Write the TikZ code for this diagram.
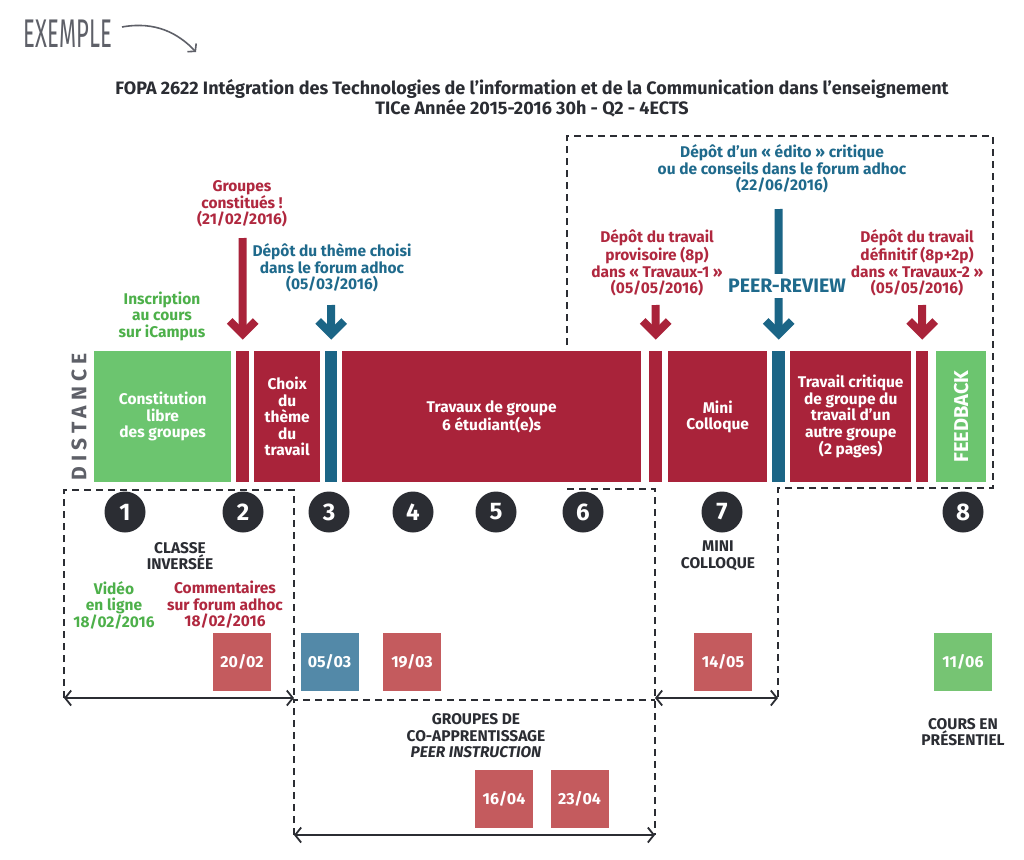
\documentclass[tikz,border=0pt]{standalone}
\usepackage{fontspec}
\setmainfont{Fira Sans}
\setsansfont{Fira Sans}
\newfontfamily\distfont{Fira Sans}[LetterSpace=24]
\usetikzlibrary{arrows.meta,calc}
\definecolor{cred}{HTML}{A9233A}
\definecolor{cgreen}{HTML}{6CC56F}
\definecolor{cblue}{HTML}{1B6586}
\definecolor{lred}{HTML}{C45B5E}
\definecolor{lblue}{HTML}{5389A8}
\definecolor{lgreen}{HTML}{76C473}
\definecolor{tgreen}{HTML}{4DB04A}
\definecolor{tred}{HTML}{B0283F}
\definecolor{tblue}{HTML}{1F6A8C}
\definecolor{dark}{HTML}{2B2D33}
\definecolor{gtext}{HTML}{5E6068}
\begin{document}
\begin{tikzpicture}[x=1pt,y=-1pt,
  lbl/.style={font=\fontsize{15.5}{16.5}\selectfont\bfseries, align=center, inner sep=0},
  seg/.style={anchor=north west, minimum height=131, inner sep=0, text=white,
    font=\fontsize{15.5}{16.5}\selectfont\bfseries, align=center},
  num/.style={circle, fill=dark, minimum size=41, inner sep=0, text=white,
    font=\fontsize{24}{24}\selectfont\bfseries},
  sq/.style={minimum size=58, inner sep=0, text=white,
    font=\fontsize{16}{16}\selectfont\bfseries},
  shaft/.style={line width=8, line cap=butt},
  head/.style={line width=8, line cap=butt, line join=miter},
  dsh/.style={draw=dark, line width=1.8, dash pattern=on 7pt off 5pt},
  span/.style={draw=dark, line width=1.8, {Straight Barb[length=6pt,width=15pt]}-{Straight Barb[length=6pt,width=15pt]}}
]
\fill[white] (0,0) rectangle (1024,859);
\useasboundingbox (0,0) rectangle (1024,859);

% EXEMPLE
\node[font=\fontsize{40}{40}\selectfont, text=gtext, inner sep=0, xscale=0.55] (ex) at (68,34) {EXEMPLE};
\coordinate (exa) at (122,27);
\coordinate (exb) at (196,52);
\draw[gtext, line width=1.6, -{Straight Barb[length=5pt,width=12pt]}] (exa) .. controls (155,21) and (178,33) .. (exb);

% title
\node[font=\fontsize{18}{18}\selectfont\bfseries, text=dark, align=center, inner sep=0] (title) at (532,98)
 {FOPA 2622 Intégration des Technologies de l’information et de la Communication dans l’enseignement\\TICe Année 2015-2016 30h - Q2 - 4ECTS};

% dashed regions
\draw[dsh] (567,345) -- (567,136) -- (993,136) -- (993,488) -- (778,488) -- (778,698);
\draw[dsh] (567,489) -- (655,489) -- (655,835);
\draw[dsh] (64,698) -- (64,490) -- (294,490) -- (294,698);
\draw[dsh] (294,835) -- (294,700) -- (655,700);

% bar
\node[rotate=90, text=gtext, font=\fontsize{21}{21}\selectfont\bfseries\distfont, inner sep=0] (dist) at (79,417) {DISTANCE};
\node[seg, fill=cgreen, minimum width=137] (s1) at (94,351) {Constitution\\libre\\des groupes};
\node[seg, fill=cred, minimum width=13] (s2) at (236,351) {};
\node[seg, fill=cred, minimum width=66] (s3) at (254,351) {Choix\\du\\thème\\du\\travail};
\node[seg, fill=cblue, minimum width=12] (s4) at (325,351) {};
\node[seg, fill=cred, minimum width=299] (s5) at (342,351) {Travaux de groupe\\6 étudiant(e)s};
\node[seg, fill=cred, minimum width=13] (s6) at (649,351) {};
\node[seg, fill=cred, minimum width=99] (s7) at (668,351) {Mini\\Colloque};
\node[seg, fill=cblue, minimum width=13] (s8) at (772,351) {};
\node[seg, fill=cred, minimum width=121] (s9) at (790,351) {Travail critique\\de groupe du\\travail d’un\\autre groupe\\(2 pages)};
\node[seg, fill=cred, minimum width=12] (s10) at (916,351) {};
\node[seg, fill=cgreen, minimum width=50] (s11) at (936,351) {};
\node[rotate=90, text=white, font=\fontsize{20}{20}\selectfont\bfseries, inner sep=0] (fb) at (s11.center) {FEEDBACK};

% labels above
\node[lbl, text=tred] (grp) at (242,204) {Groupes\\constitués !\\(21/02/2016)};
\node[lbl, text=tblue] (theme) at (332,268) {Dépôt du thème choisi\\dans le forum adhoc\\(05/03/2016)};
\node[lbl, text=tgreen] (insc) at (162,316) {Inscription\\au cours\\sur iCampus};
\node[lbl, text=tblue] (edito) at (782,169) {Dépôt d’un « édito » critique\\ou de conseils dans le forum adhoc\\(22/06/2016)};
\node[lbl, text=tred] (prov) at (657,263) {Dépôt du travail\\provisoire (8p)\\dans « Travaux-1 »\\(05/05/2016)};
\node[lbl, text=tred] (def) at (917,263) {Dépôt du travail\\définitif (8p+2p)\\dans « Travaux-2 »\\(05/05/2016)};

% arrows
\coordinate (t2) at (242.5,238);
\coordinate (t4) at (331,305);
\coordinate (t6) at (655.5,305);
\coordinate (t8) at (778.5,209);
\coordinate (t10) at (922,305);
\foreach \s/\t/\c in {s2/t2/cred, s4/t4/cblue, s6/t6/cred, s8/t8/cblue, s10/t10/cred}{
  \coordinate (h) at ($(\s.north)+(0,-17)$);
  \draw[shaft, \c] (\t) -- (h);
  \draw[head, \c] ($(h)+(-13,-13)$) -- (h) -- ($(h)+(13,-13)$);
}
\node[fill=white, text=tblue, font=\fontsize{19.5}{19.5}\selectfont\bfseries, minimum height=24, inner xsep=1, inner ysep=0] (peer) at (787,286) {PEER-REVIEW};

% numbers
\node[num] (n1) at (125,512) {1};
\node[num] (n2) at (243,512) {2};
\node[num] (n3) at (329,512) {3};
\node[num] (n4) at (413,512) {4};
\node[num] (n5) at (496,512) {5};
\node[num] (n6) at (583,512) {6};
\node[num] (n7) at (722,512) {7};
\node[num] (n8) at (963,512) {8};

% lower labels
\node[lbl, text=dark] (classe) at (180,556) {CLASSE\\INVERSÉE};
\node[lbl, text=tgreen] (video) at (114,605) {Vidéo\\en ligne\\18/02/2016};
\node[lbl, text=tred] (comm) at (225,605) {Commentaires\\sur forum adhoc\\18/02/2016};
\node[lbl, text=dark] (mini) at (718,556) {MINI\\COLLOQUE};
\node[lbl, text=dark] (cours) at (963,732) {COURS EN\\PRÉSENTIEL};
\node[lbl, text=dark] (coapp) at (476,736) {GROUPES DE\\CO-APPRENTISSAGE\\\textit{PEER INSTRUCTION}};

% date squares
\node[sq, fill=lred] (d1) at (242,662) {20/02};
\node[sq, fill=lblue] (d2) at (329.5,662) {05/03};
\node[sq, fill=lred] (d3) at (412,662) {19/03};
\node[sq, fill=lred] (d4) at (723,662) {14/05};
\node[sq, fill=lgreen] (d5) at (963,662) {11/06};
\node[sq, fill=lred] (d6) at (504,798.5) {16/04};
\node[sq, fill=lred] (d7) at (579.5,798.5) {23/04};

% spans
\coordinate (a1) at (64,698); \coordinate (a2) at (294,698);
\coordinate (a3) at (655,698); \coordinate (a4) at (778,698);
\coordinate (a5) at (294,835); \coordinate (a6) at (655,835);
\draw[span] (a1) -- (a2);
\draw[span] (a3) -- (a4);
\draw[span] (a5) -- (a6);
\end{tikzpicture}
\end{document}
